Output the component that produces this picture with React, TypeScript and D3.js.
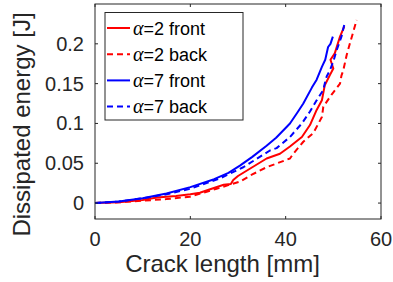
import React from "react";
import * as d3 from "d3";

const a2Front: [number, number][] = [
  [0, 0], [5, 0.001], [10, 0.004], [13, 0.007], [17, 0.009], [20, 0.011], [22, 0.013], [24, 0.017],
  [27, 0.023], [28.5, 0.024], [29, 0.029], [30, 0.034], [33, 0.045], [36, 0.056], [38.8, 0.062],
  [40.9, 0.071], [43.4, 0.083], [45.1, 0.098], [46.5, 0.117], [47.6, 0.129], [48.2, 0.148],
  [49.3, 0.161], [50, 0.169], [49.4, 0.18], [50.3, 0.188], [51.4, 0.209], [52.3, 0.222],
];
const a2Back: [number, number][] = [
  [0, 0], [5, 0.001], [10, 0.003], [15, 0.005], [19.9, 0.008], [25.5, 0.018], [30.4, 0.027],
  [33, 0.036], [36, 0.045], [40.9, 0.056], [41.6, 0.062], [43.7, 0.077], [45.8, 0.088],
  [47.6, 0.108], [47.9, 0.121], [49.6, 0.136], [51.4, 0.15], [51.7, 0.16], [52.1, 0.167],
  [52.8, 0.186], [53.5, 0.201], [54.9, 0.23],
];
const a7Front: [number, number][] = [
  [0, 0], [5, 0.002], [10, 0.006], [15, 0.012], [20, 0.02], [25, 0.03], [28, 0.038],
  [30.4, 0.047], [33, 0.058], [36, 0.072], [38, 0.082], [40.9, 0.1], [42.5, 0.114],
  [43.7, 0.125], [45.5, 0.145], [46.5, 0.155], [47.6, 0.171], [48.3, 0.18], [48.9, 0.196],
  [49.4, 0.2], [49.9, 0.209],
];
const a7Back: [number, number][] = [
  [0, 0], [5, 0.002], [10, 0.006], [15, 0.011], [20, 0.018], [26.2, 0.031], [31.1, 0.045],
  [36.7, 0.066], [38.1, 0.069], [40.9, 0.083], [43.4, 0.1], [45.1, 0.115], [46.5, 0.129],
  [47.9, 0.142], [48.2, 0.15], [48.6, 0.159], [49.3, 0.167], [50, 0.178], [50.7, 0.192],
  [51.7, 0.209], [52.3, 0.224],
];

const xTicks = [0, 20, 40, 60];
const yTicks = [0, 0.05, 0.1, 0.15, 0.2];
const yTickLabels = ["0", "0.05", "0.1", "0.15", "0.2"];
const seriesNames = ["2 front", "2 back", "7 front", "7 back"];
const seriesColors = ["#ff0000", "#ff0000", "#0000ff", "#0000ff"];
const seriesDash = [null, "6,4", null, "6,4"];
const seriesData = [a2Front, a2Back, a7Front, a7Back];

export default function App() {
  const W = 393, H = 282;
  const L = 95, R = 381, T = 4, B = 219;
  const x = d3.scaleLinear().domain([0, 60]).range([L, R]);
  const y = d3.scaleLinear().domain([-0.02, 0.25]).range([B, T]);
  const line = d3.line<[number, number]>().x((d) => x(d[0])).y((d) => y(d[1]));
  const txt = "#262626";
  const tl = 3;
  return (
    <svg width={W} height={H} style={{ position: "absolute", left: 0, top: 0 }}>
      <rect x={0} y={0} width={W} height={H} fill="#fff" />
      {seriesData.map((s, i) => (
        <path key={i} d={line(s) || ""} fill="none" stroke={seriesColors[i]} strokeWidth={2}
          strokeDasharray={seriesDash[i] || undefined} strokeLinejoin="round" />
      ))}
      <rect x={L} y={T} width={R - L} height={B - T} fill="none" stroke={txt} strokeWidth={1} />
      {xTicks.map((t) => (
        <g key={t}>
          <line x1={x(t)} x2={x(t)} y1={B} y2={B - tl} stroke={txt} />
          <line x1={x(t)} x2={x(t)} y1={T} y2={T + tl} stroke={txt} />
          <text x={x(t)} y={246} textAnchor="middle" fontFamily="Liberation Sans, Arial" fontSize={20} fill={txt}>{t}</text>
        </g>
      ))}
      {yTicks.map((t, i) => (
        <g key={t}>
          <line x1={L} x2={L + tl} y1={y(t)} y2={y(t)} stroke={txt} />
          <line x1={R} x2={R - tl} y1={y(t)} y2={y(t)} stroke={txt} />
          <text x={84} y={y(t) + 7} textAnchor="end" fontFamily="Liberation Sans, Arial" fontSize={20} fill={txt}>{yTickLabels[i]}</text>
        </g>
      ))}
      <text x={222.5} y={272} textAnchor="middle" fontFamily="Liberation Sans, Arial" fontSize={24} fill={txt}>Crack length [mm]</text>
      <text transform={`translate(30,124.5) rotate(-90)`} textAnchor="middle" fontFamily="Liberation Sans, Arial" fontSize={24} fill={txt}>Dissipated energy [J]</text>
      <rect x={105} y={12.5} width={138} height={107.5} fill="#fff" stroke={txt} strokeWidth={1} />
      {seriesNames.map((n, i) => {
        const yy = 28 + i * 26.2;
        return (
          <g key={n}>
            <line x1={107} x2={130} y1={yy} y2={yy} stroke={seriesColors[i]} strokeWidth={2}
              strokeDasharray={seriesDash[i] || undefined} />
            <text x={133} y={yy + 6.5} fontFamily="Liberation Sans, Arial" fontSize={18} fill="#000">
              <tspan fontFamily="Liberation Serif, Times New Roman" fontStyle="italic" fontSize={20}>α</tspan>={n}
            </text>
          </g>
        );
      })}
    </svg>
  );
}
